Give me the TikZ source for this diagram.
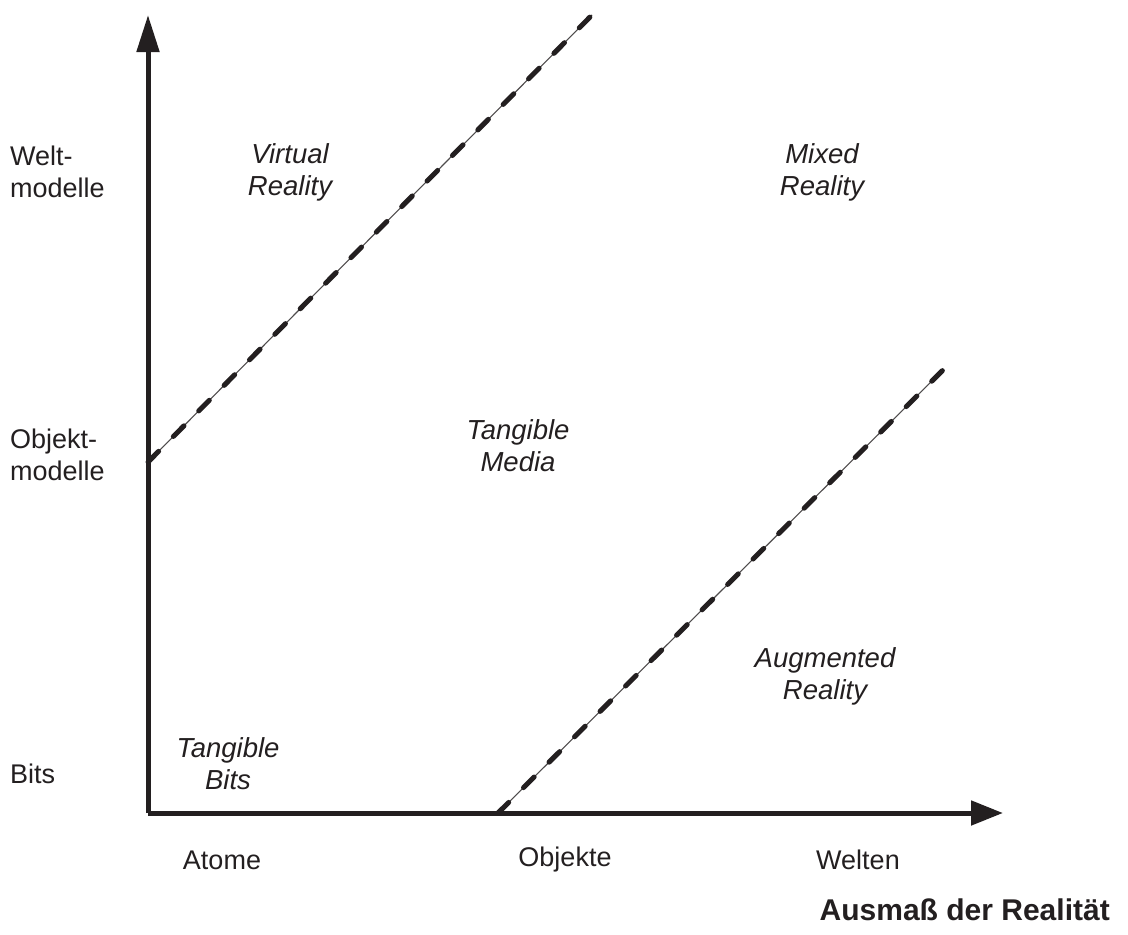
\documentclass[tikz,border=0pt]{standalone}
\usepackage{fontspec}
\setmainfont{Liberation Sans}
\usetikzlibrary{arrows.meta}
\definecolor{ink}{HTML}{231F20}
\begin{document}
\begin{tikzpicture}[x=1pt,y=-1pt,
  axis/.style={line width=5pt,draw=ink},
  thinline/.style={line width=1.1pt,draw=ink!80},
  dashline/.style={line width=5pt,draw=ink,line cap=round,dash pattern=on 15pt off 21pt},
  lab/.style={font=\fontsize{27}{32}\selectfont,text=ink,align=left,inner sep=0pt},
  ital/.style={font=\fontsize{27.5}{32}\selectfont\itshape,text=ink,align=center,inner sep=0pt},
  ttl/.style={font=\fontsize{30}{36}\selectfont\bfseries,text=ink,inner sep=0pt}]
\useasboundingbox (0,0) rectangle (1128,935);
\coordinate (O) at (148,813);
\coordinate (ytop) at (148,15);
\coordinate (xend) at (1003,813);
\coordinate (a1) at (148,462);
\coordinate (a2) at (592,15);
\coordinate (b1) at (498,813);
\coordinate (b2) at (943,370);
% diagonal lines
\draw[thinline] (a1) -- (a2);
\draw[dashline] (a1) -- (a2);
\draw[thinline] (b1) -- (b2);
\draw[dashline] (b1) -- (b2);
% axes
\draw[axis,-{Triangle[width=22pt,length=37pt]}] (O) -- (ytop);
\draw[axis,-{Triangle[width=24pt,length=32pt]}] (O) -- (xend);
% y labels
\node[lab,anchor=west] (welt) at (10,172) {Welt-\\modelle};
\node[lab,anchor=west] (obj) at (10,455) {Objekt-\\modelle};
\node[lab,anchor=west] (bits) at (10,774) {Bits};
% x labels
\node[lab] (atome) at (222,860) {Atome};
\node[lab] (objekte) at (565,860) {Objekte};
\node[lab] (welten) at (858,860) {Welten};
\node[ttl,anchor=east] (title) at (1110,910) {Ausmaß der Realität};
% region labels
\node[ital] (vr) at (290,172) {Virtual\\Reality};
\node[ital] (mr) at (822,172) {Mixed\\Reality};
\node[ital] (tm) at (518,446) {Tangible\\Media};
\node[ital] (ar) at (825,676) {Augmented\\Reality};
\node[ital] (tb) at (228,764) {Tangible\\Bits};
\end{tikzpicture}
\end{document}
